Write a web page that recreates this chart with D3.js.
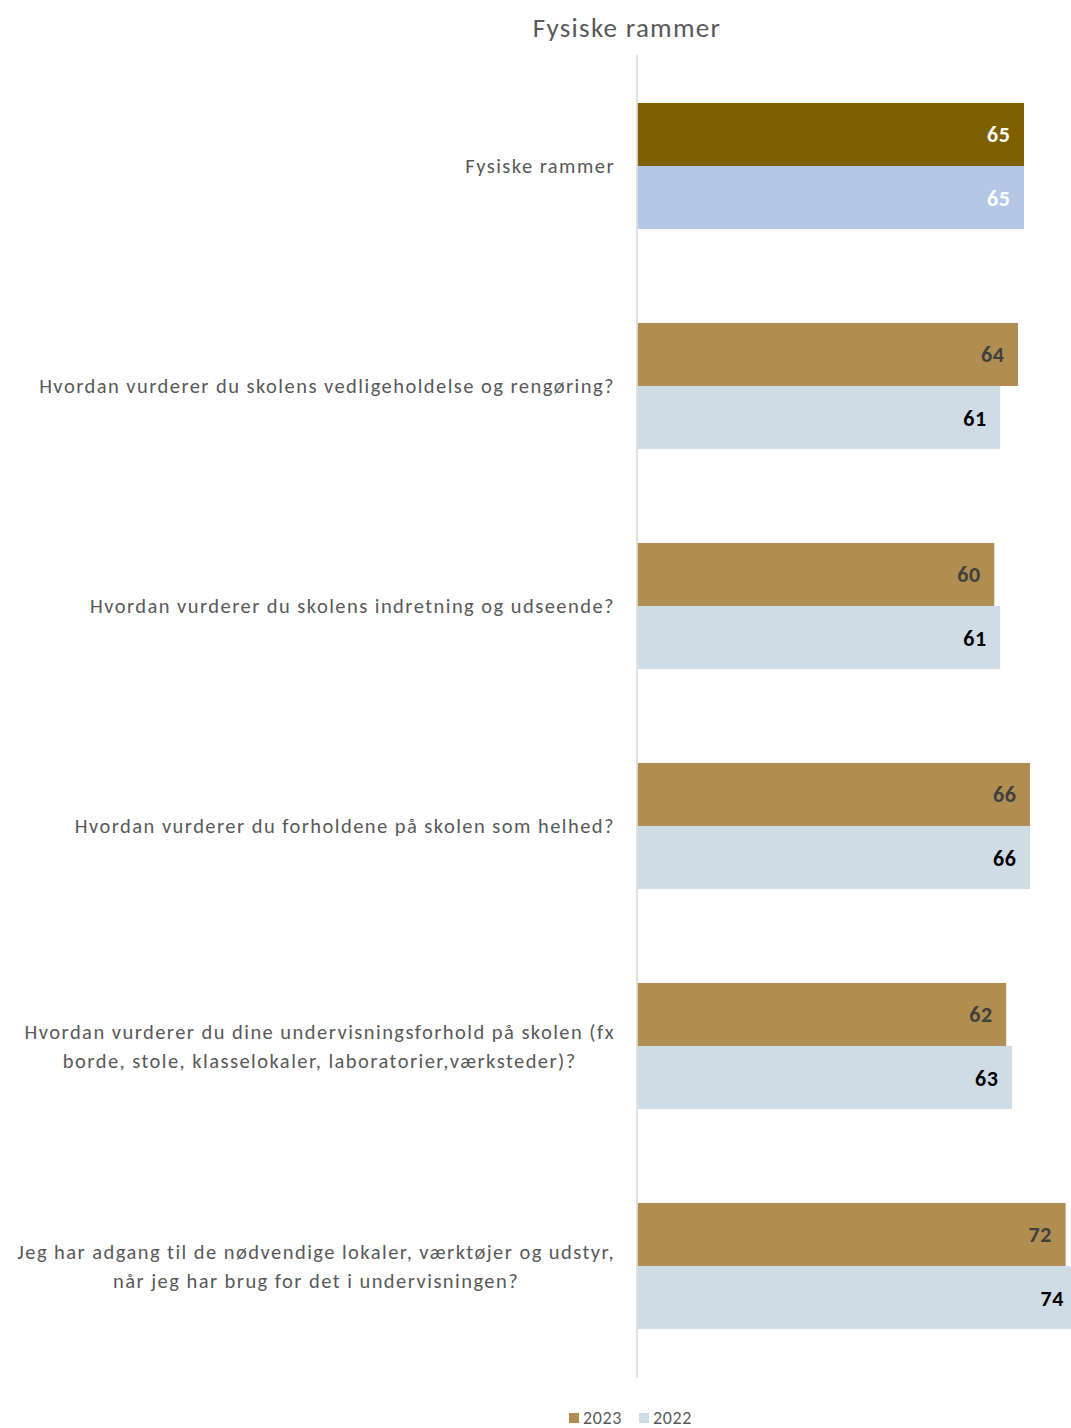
<!DOCTYPE html>
<html><head><meta charset="utf-8">
<script src="https://cdn.jsdelivr.net/npm/d3@7"></script>
<style>body{margin:0;background:#fff;}svg{display:block;}</style>
</head><body>
<svg id="c" width="1071" height="1428"></svg>
<script>
const categories = [
  ["Fysiske rammer"],
  ["Hvordan vurderer du skolens vedligeholdelse og rengøring?"],
  ["Hvordan vurderer du skolens indretning og udseende?"],
  ["Hvordan vurderer du forholdene på skolen som helhed?"],
  ["Hvordan vurderer du dine undervisningsforhold på skolen (fx", "borde, stole, klasselokaler, laboratorier,værksteder)?"],
  ["Jeg har adgang til de nødvendige lokaler, værktøjer og udstyr,", "når jeg har brug for det i undervisningen?"]
];
const series = ["2023", "2022"];
const values2023 = [65, 64, 60, 66, 62, 72];
const values2022 = [65, 61, 61, 66, 63, 74];
const title = "Fysiske rammer";

const svg = d3.select("#c");
const font = "Carlito, Lato, 'Open Sans', sans-serif";
const x0 = 637;
const x = d3.scaleLinear().domain([0, 65]).range([x0, 1023.5]);
const keys = categories.map((c, i) => i);
const pi = 0.427;
const y = d3.scaleBand().domain(keys).range([56, 1376]).paddingInner(pi).paddingOuter(pi / 2);
const ys = d3.scaleBand().domain(series).range([0, y.bandwidth()]);

const colors = {
  "2023": (i) => i === 0 ? "#7F6000" : "#B08D50",
  "2022": (i) => i === 0 ? "#B4C7E7" : "#CFDBE5"
};
const labelColors = {
  "2023": (i) => i === 0 ? "#ffffff" : "#404040",
  "2022": (i) => i === 0 ? "#ffffff" : "#000000"
};

const data = [];
keys.forEach(i => {
  data.push({i, s: "2023", v: values2023[i]});
  data.push({i, s: "2022", v: values2022[i]});
});

svg.append("text").attr("x", 627).attr("y", 37).attr("text-anchor", "middle")
  .attr("font-family", font).attr("font-size", 27).attr("letter-spacing", 1.3)
  .attr("fill", "#595959").text(title);

svg.selectAll("rect.bar").data(data).join("rect").attr("class", "bar")
  .attr("x", x0 + 0.5)
  .attr("y", d => y(d.i) + ys(d.s))
  .attr("width", d => x(d.v) - x0)
  .attr("height", ys.bandwidth())
  .attr("fill", d => colors[d.s](d.i));

svg.append("line").attr("x1", x0).attr("x2", x0).attr("y1", 55).attr("y2", 1378)
  .attr("stroke", "#D9D9D9").attr("stroke-width", 1.5);

svg.selectAll("text.val").data(data).join("text").attr("class", "val")
  .attr("x", d => x(d.v) - 13)
  .attr("y", d => y(d.i) + ys(d.s) + ys.bandwidth() / 2 + 8)
  .attr("text-anchor", "end")
  .attr("font-family", font).attr("font-size", 22).attr("font-weight", "bold")
  .attr("letter-spacing", 0.6)
  .attr("fill", d => labelColors[d.s](d.i))
  .text(d => d.v);

keys.forEach(i => {
  const lines = categories[i];
  const cy = y(i) + y.bandwidth() / 2;
  const lh = 29;
  const t = svg.append("text").attr("text-anchor", "middle")
    .attr("font-family", font).attr("font-size", 20.5).attr("letter-spacing", 1.45)
    .attr("fill", "#595959");
  lines.forEach((ln, k) => {
    t.append("tspan").attr("x", 0)
      .attr("y", cy + (k - (lines.length - 1) / 2) * lh + 7)
      .text(ln);
  });
  const bw = t.node().getBBox().width;
  t.attr("transform", `translate(${615 - bw / 2},0)`);
});

const leg = svg.append("g");
const legItems = [{s: "2023", c: "#B08D50", x: 569}, {s: "2022", c: "#CFDBE5", x: 639}];
legItems.forEach(it => {
  leg.append("rect").attr("x", it.x).attr("y", 1413).attr("width", 10).attr("height", 10).attr("fill", it.c);
  leg.append("text").attr("x", it.x + 14).attr("y", 1424).attr("font-family", font)
    .attr("font-size", 18).attr("letter-spacing", 0.6).attr("fill", "#595959").text(it.s);
});
</script>
</body></html>
